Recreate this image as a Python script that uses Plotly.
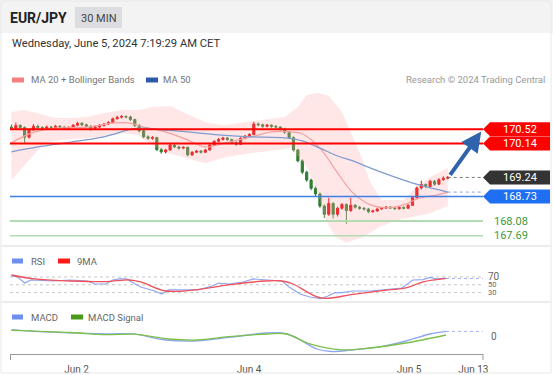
import plotly.graph_objects as go

# ---------------- data ----------------
candle_open = [170.58,170.55,170.62,170.57,170.31,170.50,170.60,170.57,170.55,170.58,
               170.57,170.60,170.58,170.55,170.57,170.63,170.68,170.64,170.60,170.55,
               170.58,170.62,170.66,170.70,170.80,170.84,170.86,170.85,170.78,170.62,
               170.48,170.32,170.28,170.30,169.98,169.92,169.97,170.10,170.05,170.02,
               170.04,169.84,169.91,169.94,169.91,169.97,170.10,170.20,170.25,170.29,
               170.25,170.17,170.12,170.28,170.34,170.38,170.66,170.64,170.60,170.63,
               170.60,170.58,170.53,170.44,170.30,169.97,169.68,169.38,169.17,168.95,
               168.80,168.48,168.26,168.55,168.26,168.42,168.52,168.36,168.50,168.45,
               168.42,168.40,168.33,168.35,168.40,168.42,168.45,168.43,168.41,168.44,
               168.42,168.50,168.70,168.96,169.05,169.00,169.14,169.06,169.18,169.22]
candle_close = [170.55,170.62,170.57,170.31,170.50,170.60,170.57,170.55,170.58,170.57,
                170.60,170.58,170.55,170.57,170.63,170.68,170.64,170.60,170.55,170.58,
                170.62,170.66,170.70,170.80,170.84,170.86,170.85,170.78,170.62,170.48,
                170.32,170.28,170.30,169.98,169.92,169.97,170.10,170.05,170.02,170.04,
                169.84,169.91,169.94,169.91,169.97,170.10,170.20,170.25,170.29,170.25,
                170.17,170.12,170.28,170.34,170.38,170.66,170.64,170.60,170.63,170.60,
                170.58,170.53,170.44,170.30,169.97,169.68,169.38,169.17,168.95,168.80,
                168.48,168.26,168.55,168.26,168.42,168.52,168.36,168.50,168.45,168.42,
                168.40,168.33,168.35,168.40,168.42,168.45,168.43,168.41,168.44,168.42,
                168.50,168.70,168.96,169.05,169.00,169.14,169.06,169.18,169.22,169.24]
candle_high = [170.65,170.70,170.66,170.60,170.55,170.66,170.64,170.60,170.62,170.61,
               170.64,170.63,170.61,170.60,170.66,170.72,170.71,170.67,170.63,170.62,
               170.66,170.69,170.74,170.83,170.88,170.90,170.89,170.88,170.80,170.66,
               170.52,170.36,170.34,170.32,170.02,170.00,170.13,170.13,170.08,170.07,
               170.06,169.94,169.97,169.97,170.00,170.13,170.23,170.29,170.32,170.31,
               170.27,170.20,170.31,170.37,170.42,170.72,170.70,170.67,170.66,170.65,
               170.63,170.60,170.56,170.47,170.33,170.00,169.72,169.42,169.21,169.00,
               168.84,168.52,168.70,168.58,168.46,168.56,168.55,168.70,168.53,168.48,
               168.45,168.43,168.38,168.43,168.45,168.48,168.48,168.46,168.47,168.47,
               168.53,168.73,169.00,169.15,169.08,169.18,169.17,169.22,169.27,169.28]
candle_low = [170.50,170.52,170.52,170.16,170.27,170.48,170.53,170.50,170.52,170.53,
              170.54,170.55,170.52,170.50,170.55,170.60,170.60,170.56,170.48,170.52,
              170.55,170.59,170.63,170.68,170.78,170.81,170.81,170.74,170.58,170.44,
              170.28,170.24,170.24,169.94,169.87,169.88,169.95,170.02,169.98,169.99,
              169.80,169.81,169.89,169.88,169.89,169.95,170.08,170.18,170.22,170.21,
              170.13,170.08,170.10,170.25,170.30,170.36,170.60,170.56,170.57,170.56,
              170.54,170.49,170.40,170.26,169.93,169.64,169.33,169.12,168.90,168.74,
              168.43,168.16,168.22,168.15,168.20,168.38,168.01,168.32,168.41,168.38,
              168.36,168.29,168.30,168.32,168.38,168.40,168.40,168.38,168.38,168.39,
              168.40,168.48,168.68,168.92,168.96,168.98,169.02,169.04,169.15,169.19]
candle_idx = list(range(len(candle_close)))

bb_upper_idx = [0,3,6,10,14,17,21,25,29,32,36,39,44,48,53,59,62,65,67,69.5,72,75,77,79.5,81.5,84,89,92,95,99]
bb_upper = [170.98,171.03,170.95,170.82,170.82,170.85,170.95,171.03,171.03,171.11,171.14,170.98,170.71,170.63,
            170.71,170.82,170.85,171.11,171.43,171.49,171.41,170.98,170.45,169.76,169.09,168.64,168.64,168.99,169.25,169.49]
bb_lower_idx = [0,2,4.5,7.5,11.5,17,21,25.5,28.5,32,35.5,39,44,48.5,54.5,60.5,63.5,67,69.5,71,73.5,76,80,83.5,87.5,91,95,99]
bb_lower = [169.17,169.44,169.78,170.16,170.24,170.29,170.32,170.42,170.37,170.10,169.89,169.78,169.62,169.78,
            169.89,169.97,170.02,169.52,168.83,168.19,167.66,167.50,167.66,167.92,168.11,168.19,168.29,168.48]
ma20_idx = [0,4.5,10,17,23.5,26.5,30,35,39.5,44,48.5,54.5,59,63.5,66,70,74,77.5,81.5,85,89,92.5,96.5,99]
ma20 = [170.16,170.42,170.55,170.58,170.69,170.69,170.58,170.45,170.26,170.05,170.16,170.32,170.45,170.45,
        170.40,170.02,169.36,168.83,168.51,168.43,168.51,168.69,168.77,168.85]
ma50_idx = [0,6,13.5,21,27.5,30,35,40,47,54.5,62,66,70,74,77.5,81.5,89,92.5,99]
ma50 = [169.92,170.05,170.18,170.32,170.53,170.55,170.50,170.45,170.37,170.32,170.29,170.21,170.02,169.81,
        169.68,169.49,169.17,169.04,168.85]

rsi_idx = [0,1.4,3,4.5,9.3,13.2,17.3,18.9,21.4,23,24.5,26.1,27.7,29.3,32.5,34.1,35.7,38.9,42.3,45.5,47,
           49.3,52.5,55,58.2,61.4,63,65.5,67.7,70.2,71.8,73.4,75,77.5,81.4,85.5,88.6,91.1,93.4,95,96.6,98.6]
rsi = [72.6,70,54.6,62.3,59.7,62.3,59.7,52,52,62.3,64.9,64.9,54.6,44.4,34.1,26.4,36.7,36.7,36.7,46.9,54.6,
       52,57.2,64.9,62.3,59.7,44.4,26.4,18.7,14.6,21.3,30,30,34.1,34.1,39.2,41.8,62.3,63.3,68.7,64.9,66.2]
rsi_ma_idx = [0,5.2,13.4,21.4,26.8,29.3,35,41.4,49.3,57.5,61.4,63.9,70.2,77.5,85.5,89.5,93.4,98.6]
rsi_ma = [75.1,64.9,59.7,58,62.3,57.2,34.1,36.7,49.5,59.7,59.7,52,16.2,25.4,36.7,41.8,57.2,66.2]
rsi_levels = [70, 50, 30]

macd_idx = [0,5.2,21.4,27.7,35,41.4,49.3,57.5,61.4,63.9,69.3,72.7,77.5,83.9,89.5,95,98.6]
macd = [0.063,0.046,0.021,0.021,-0.04,-0.05,-0.014,0.03,0.03,0.0,-0.13,-0.155,-0.138,-0.106,-0.05,0.02,0.046]
signal_idx = [0,13.4,21.4,27.7,35.7,42.3,49.3,58.2,62.3,67.7,75,81.4,89.5,98.6]
signal = [0.056,0.035,0.014,0.018,-0.03,-0.04,-0.007,0.02,0.02,-0.078,-0.138,-0.12,-0.07,0.01]

resistance_levels = [170.52, 170.14]
last_price = 169.24
support_blue = 168.73
support_green = [168.08, 167.69]
tick_pos = [14.8, 53.9, 90.2, 104.8]
tick_text = ["Jun 2", "Jun 4", "Jun 5", "Jun 13"]
target_arrow_end = 170.46

# ---------------- layout helpers ----------------
W, H = 553, 375
L, R, T, B = 10, 70, 92, 21
PW, PH = W - L - R, H - T - B
X_RANGE = [-0.32, 107.0]
FONT = "Roboto, Liberation Sans, Arial, sans-serif"


def px(x):
    return (x - L) / PW


def py(y):
    return (H - B - y) / PH


main_dom = [py(245), 1.0]
rsi_dom = [py(300), py(268)]
macd_dom = [0.0, py(322)]

fig = go.Figure()

# Bollinger band (filled polygon)
fig.add_trace(go.Scatter(x=bb_upper_idx + bb_lower_idx[::-1], y=bb_upper + bb_lower[::-1],
                         fill="toself", fillcolor="rgba(255,170,170,0.28)", line=dict(width=0),
                         mode="lines", hoverinfo="skip", yaxis="y"))
fig.add_trace(go.Scatter(x=ma20_idx, y=ma20, mode="lines", line=dict(color="#f4a0a0", width=1.2,
                         shape="spline"), yaxis="y"))
fig.add_trace(go.Scatter(x=ma50_idx, y=ma50, mode="lines", line=dict(color="#7f9bd0", width=1.3,
                         shape="spline"), yaxis="y"))

# levels
for lv in resistance_levels:
    fig.add_trace(go.Scatter(x=X_RANGE, y=[lv, lv], mode="lines", line=dict(color="#ff0000", width=2), yaxis="y"))
fig.add_trace(go.Scatter(x=X_RANGE, y=[support_blue, support_blue], mode="lines",
                         line=dict(color="#3f7fe6", width=1.5), yaxis="y"))
fig.add_trace(go.Scatter(x=X_RANGE, y=[support_green[0]] * 2, mode="lines",
                         line=dict(color="#b3dbb3", width=2), yaxis="y"))
fig.add_trace(go.Scatter(x=X_RANGE, y=[support_green[1]] * 2, mode="lines",
                         line=dict(color="#b3dbb3", width=1.5), yaxis="y"))
# dotted extensions
fig.add_trace(go.Scatter(x=[candle_idx[-1], X_RANGE[1]], y=[last_price, last_price], mode="lines",
                         line=dict(color="#777777", width=1, dash="dot"), yaxis="y"))
fig.add_trace(go.Scatter(x=[ma50_idx[-1], X_RANGE[1]], y=[ma50[-1], ma50[-1]], mode="lines",
                         line=dict(color="#8da3d4", width=1, dash="dot"), yaxis="y"))

# candles
fig.add_trace(go.Candlestick(x=candle_idx, open=candle_open, high=candle_high, low=candle_low, close=candle_close,
                             increasing=dict(line=dict(color="#e10000", width=1), fillcolor="#e10000"),
                             decreasing=dict(line=dict(color="#2f7d32", width=1), fillcolor="#2f7d32"),
                             whiskerwidth=0, yaxis="y"))

# RSI
for lv in rsi_levels:
    fig.add_trace(go.Scatter(x=X_RANGE, y=[lv, lv], mode="lines",
                             line=dict(color="#c8c8c8", width=1, dash="dot"), yaxis="y2"))
fig.add_trace(go.Scatter(x=rsi_idx, y=rsi, mode="lines", line=dict(color="#8fa6ee", width=1.2), yaxis="y2"))
fig.add_trace(go.Scatter(x=rsi_ma_idx, y=rsi_ma, mode="lines", line=dict(color="#f0505a", width=1.3,
                         shape="spline"), yaxis="y2"))
fig.add_trace(go.Scatter(x=[rsi_idx[-1], X_RANGE[1]], y=[rsi[-1], rsi[-1]], mode="lines",
                         line=dict(color="#9fb2f0", width=1, dash="dot"), yaxis="y2"))

# MACD
fig.add_trace(go.Scatter(x=macd_idx, y=macd, mode="lines", line=dict(color="#8fa6ee", width=1.3,
                         shape="spline"), yaxis="y3"))
fig.add_trace(go.Scatter(x=signal_idx, y=signal, mode="lines", line=dict(color="#7cc04a", width=1.3,
                         shape="spline"), yaxis="y3"))
fig.add_trace(go.Scatter(x=[macd_idx[-1], X_RANGE[1]], y=[macd[-1], macd[-1]], mode="lines",
                         line=dict(color="#9fb2f0", width=1, dash="dot"), yaxis="y3"))

shapes = []
annotations = []

# header band
shapes.append(dict(type="rect", xref="paper", yref="paper", x0=px(0), x1=px(W), y0=py(33), y1=py(0),
                   fillcolor="#f3f3f3", line=dict(width=0), layer="below"))
shapes.append(dict(type="rect", xref="paper", yref="paper", x0=px(75), x1=px(122), y0=py(28), y1=py(7),
                   fillcolor="#dcdde0", line=dict(width=0), layer="below"))
# frame & separators
shapes.append(dict(type="rect", xref="paper", yref="paper", x0=px(1), x1=px(551), y0=py(373), y1=py(1),
                   line=dict(color="#e8e8e8", width=1)))
for ys in (246, 302):
    shapes.append(dict(type="line", xref="paper", yref="paper", x0=px(1), x1=px(551), y0=py(ys), y1=py(ys),
                       line=dict(color="#ececec", width=2)))
# axis end ticks
for xs in (10.5, 483):
    shapes.append(dict(type="line", xref="paper", yref="paper", x0=px(xs), x1=px(xs), y0=py(354), y1=py(360),
                       line=dict(color="#999999", width=1)))

# legend swatches
for (x0, x1, yy, col) in [(12, 24, 80, "#f48080"), (146, 158, 80, "#2c5ca8"),
                          (12, 23, 261, "#6f8ff0"), (58, 70, 261, "#ff1a1a"),
                          (12, 23, 317, "#6f8ff0"), (71, 83, 317, "#4a9a1a")]:
    shapes.append(dict(type="rect", xref="paper", yref="paper", x0=px(x0), x1=px(x1), y0=py(yy + 2.5),
                       y1=py(yy - 2.5), fillcolor=col, line=dict(width=0)))


def text(x, y, s, size=10, color="#666666", anchor="left", bold=False):
    annotations.append(dict(xref="paper", yref="paper", x=px(x), y=py(y), text=("<b>%s</b>" % s) if bold else s,
                            showarrow=False, xanchor=anchor, yanchor="middle", borderpad=0, borderwidth=0,
                            font=dict(size=size, color=color, family=FONT)))


text(10, 18, "EUR/JPY", 14, "#222222", bold=True)
text(98.5, 18, "30 MIN", 11, "#444444", anchor="center")
text(12, 44, "Wednesday, June 5, 2024 7:19:29 AM CET", 11.2, "#333333")
text(31, 80, "MA 20 + Bollinger Bands", 9.5, "#777777")
text(163, 80, "MA 50", 9.5, "#777777")
text(545, 80, "Research © 2024 Trading Central", 9.5, "#9a9a9a", anchor="right")
text(31, 261, "RSI", 9.5, "#666666")
text(77, 261, "9MA", 9.5, "#666666")
text(31, 317, "MACD", 9.5, "#666666")
text(88, 317, "MACD Signal", 9.5, "#666666")

# price label boxes
HALF = 7 * (171.512 - 167.443) / 153.0


def price_box(p, col):
    shapes.append(dict(type="path", xref="paper", yref="y",
                       path="M %f,%f L %f,%f L %f,%f L %f,%f L %f,%f Z" % (
                           px(483), p, px(490), p + HALF, px(550), p + HALF, px(550), p - HALF, px(490), p - HALF),
                       fillcolor=col, line=dict(width=0)))
    annotations.append(dict(xref="paper", yref="y", x=px(520), y=p, text="%.2f" % p, showarrow=False,
                            xanchor="center", yanchor="middle", font=dict(size=11, color="white", family=FONT)))


price_box(resistance_levels[0], "#ff0000")
price_box(resistance_levels[1], "#ff0000")
price_box(last_price, "#333333")
price_box(support_blue, "#1f6ff2")
for lv in support_green:
    annotations.append(dict(xref="paper", yref="y", x=px(492), y=lv, text="%.2f" % lv, showarrow=False,
                            xanchor="left", yanchor="middle", font=dict(size=11, color="#3c9a3c", family=FONT)))
for lv, fs in zip(rsi_levels, (10, 7.5, 7.5)):
    annotations.append(dict(xref="paper", yref="y2", x=px(488), y=lv, text=str(lv), showarrow=False,
                            xanchor="left", yanchor="middle", borderpad=0, borderwidth=0,
                            font=dict(size=fs, color="#666666", family=FONT)))
annotations.append(dict(xref="paper", yref="y3", x=px(489), y=0, text="0", showarrow=False,
                        xanchor="left", yanchor="middle", font=dict(size=10, color="#666666", family=FONT)))

# forecast arrow
annotations.append(dict(xref="x", yref="y", axref="x", ayref="y", x=106.6, y=target_arrow_end,
                        ax=candle_idx[-1] + 0.3, ay=last_price + 0.03, text="", showarrow=True,
                        arrowhead=2, arrowsize=1, arrowwidth=4, arrowcolor="#2f63ab"))

fig.update_layout(
    width=W, height=H, margin=dict(l=L, r=R, t=T, b=B, autoexpand=False),
    paper_bgcolor="white", plot_bgcolor="rgba(0,0,0,0)",
    showlegend=False, font=dict(family=FONT),
    shapes=shapes, annotations=annotations,
    xaxis=dict(range=X_RANGE, anchor="y3", showgrid=False, zeroline=False, showline=True,
               linecolor="#999999", linewidth=1, tickvals=tick_pos, ticktext=tick_text,
               ticks="outside", ticklen=6, tickcolor="rgba(0,0,0,0)", automargin=False,
               tickfont=dict(size=10, color="#555555", family=FONT), rangeslider=dict(visible=False),
               fixedrange=True),
    yaxis=dict(domain=main_dom, range=[167.443, 171.512], anchor="x", showgrid=False, zeroline=False,
               showticklabels=False, fixedrange=True, automargin=False),
    yaxis2=dict(domain=rsi_dom, range=[11, 93], anchor="x", showgrid=False, zeroline=False,
                showticklabels=False, fixedrange=True, automargin=False),
    yaxis3=dict(domain=macd_dom, range=[-0.18, 0.14], anchor="x", showgrid=False, zeroline=False,
                showticklabels=False, fixedrange=True, automargin=False),
)

fig.write_html("out.html", config={"displayModeBar": False},
               post_script="document.body.style.margin='0';document.body.style.overflow='hidden';")
